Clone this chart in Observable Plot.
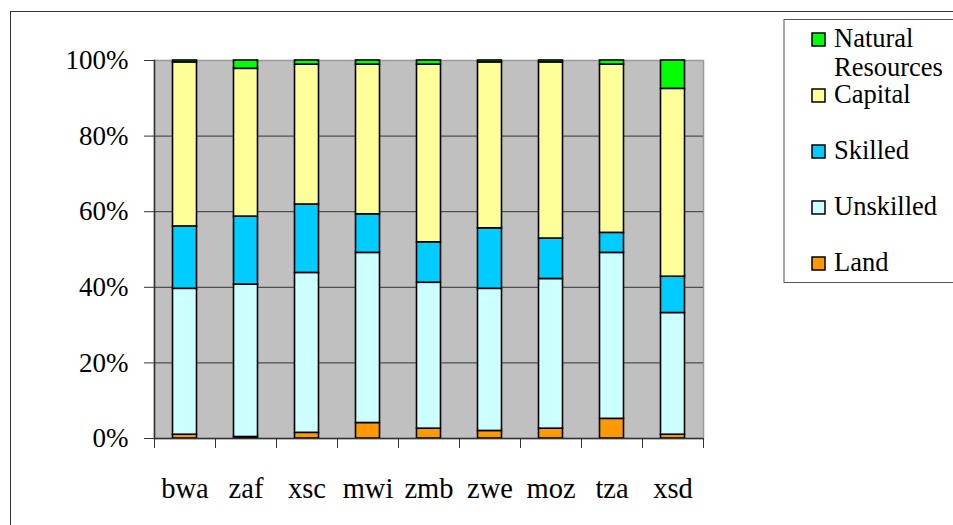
<!DOCTYPE html>
<html>
<head>
<meta charset="utf-8">
<script src="https://cdn.jsdelivr.net/npm/d3@7"></script>
<script src="https://cdn.jsdelivr.net/npm/@observablehq/plot@0.6"></script>
<style>
  html, body { margin: 0; padding: 0; background: #fff; overflow: hidden; }
  #wrap { position: relative; width: 953px; height: 525px; overflow: hidden; }
  #outer { position: absolute; left: 10px; top: 11px; width: 1200px; height: 800px; border: 1.5px solid #333; box-sizing: border-box; }
  #chart { position: absolute; left: 0; top: 0; }
  #legend { position: absolute; left: 0; top: 0; }
</style>
</head>
<body>
<div id="wrap">
  <div id="outer"></div>
  <div id="chart"></div>
  <svg id="legend" width="953" height="525"></svg>
</div>
<script>
const countries = ["bwa", "zaf", "xsc", "mwi", "zmb", "zwe", "moz", "tza", "xsd"];
const land      = [1.0, 0.4, 1.5, 4.1, 2.6, 2.0, 2.6, 5.2, 1.0];
const unskilled = [38.6, 40.3, 42.3, 45.0, 38.6, 37.6, 39.6, 43.9, 32.2];
const skilled   = [16.5, 18.0, 18.1, 10.2, 10.7, 16.0, 10.7, 5.3, 9.6];
const capital   = [43.4, 39.1, 37.0, 39.6, 47.0, 43.9, 46.6, 44.5, 49.7];
const natres    = [0.5, 2.2, 1.1, 1.1, 1.1, 0.5, 0.5, 1.1, 7.5];
const series = ["Land", "Unskilled", "Skilled", "Capital", "Natural Resources"];
const colors = ["#ff9900", "#ccffff", "#00ccff", "#ffff99", "#00ff00"];
const yTicks = [0, 20, 40, 60, 80, 100];
const gridTicks = [20, 40, 60, 80];

const valuesBySeries = [land, unskilled, skilled, capital, natres];
const data = countries.flatMap((c, i) =>
  series.map((s, j) => ({country: c, factor: s, value: valuesBySeries[j][i]}))
);

const plotWidth = 953, plotHeight = 525;
const mL = 154, mR = 250, mT = 60, mB = 87;
const step = (plotWidth - mL - mR) / countries.length;
const barW = 24;

const chart = Plot.plot({
  width: plotWidth,
  height: plotHeight,
  marginLeft: mL,
  marginRight: mR,
  marginTop: mT,
  marginBottom: mB,
  style: {fontFamily: "Liberation Serif", fontSize: "27px", background: "transparent", color: "#000", overflow: "visible"},
  x: {domain: countries, padding: 0, label: null},
  y: {domain: [0, 100], label: null},
  color: {domain: series, range: colors},
  marks: [
    Plot.frame({fill: "#c0c0c0", stroke: "#999", strokeWidth: 1.5}),
    Plot.gridY(gridTicks, {stroke: "#333", strokeOpacity: 1, strokeWidth: 1}),
    Plot.barY(data, {x: "country", y: "value", fill: "factor", stroke: "#000", strokeWidth: 1.6,
      insetLeft: (step - barW) / 2, insetRight: (step - barW) / 2}),
    Plot.ruleY([0], {stroke: "#333", strokeWidth: 1.5}),
    Plot.frame({anchor: "left", stroke: "#333", strokeWidth: 1.5}),
    Plot.axisY(yTicks, {tickSize: 10, tickPadding: 16, tickFormat: d => `${d}%`, label: null, stroke: "#333"}),
    Plot.axisX(countries, {tickSize: 10, text: null, label: null, dx: -step / 2, stroke: "#333"}),
    Plot.axisX(countries.slice(-1), {tickSize: 10, text: null, label: null, dx: step / 2, stroke: "#333"}),
    Plot.axisX(countries, {tickSize: 0, tickPadding: 39, label: null, fontSize: 28.5})
  ]
});
document.getElementById("chart").appendChild(chart);

// Legend (top item is Natural Resources, bottom is Land)
const legendOrder = series.slice().reverse();
const legendColors = colors.slice().reverse();
const lg = d3.select("#legend");
lg.append("rect").attr("x", 784).attr("y", 19.5).attr("width", 300).attr("height", 263)
  .attr("fill", "#fff").attr("stroke", "#555").attr("stroke-width", 1);
const items = lg.selectAll("g.item").data(legendOrder).join("g").attr("class", "item")
  .attr("transform", (d, i) => `translate(812, ${47 + i * 56})`);
items.append("rect").attr("x", 0).attr("y", -14).attr("width", 13).attr("height", 13)
  .attr("fill", (d, i) => legendColors[i]).attr("stroke", "#000").attr("stroke-width", 1.5);
const txt = items.append("text").attr("x", 22).attr("y", 0)
  .attr("font-family", "Liberation Serif").attr("font-size", 26.5).attr("fill", "#000");
txt.each(function(d) {
  const words = d.split(" ");
  const t = d3.select(this);
  words.forEach((w, k) => t.append("tspan").attr("x", 22).attr("dy", k === 0 ? 0 : 29).text(w));
});
</script>
</body>
</html>
